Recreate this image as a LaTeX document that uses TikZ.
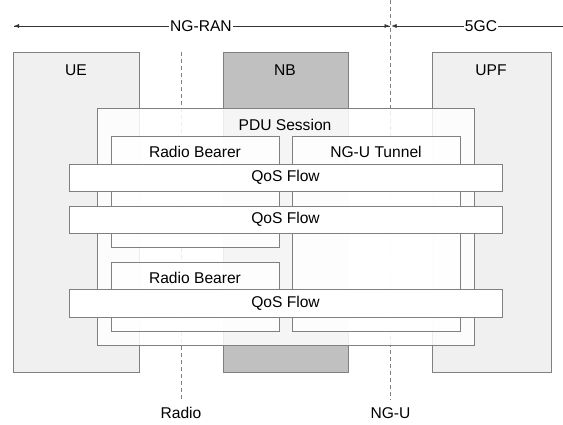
\documentclass[tikz,border=0pt]{standalone}
\usepackage{fontspec}
\setmainfont{Liberation Sans}
\usetikzlibrary{arrows.meta}
\definecolor{edgegray}{HTML}{808080}
\definecolor{lightfill}{HTML}{F0F0F0}
\definecolor{nbfill}{HTML}{C0C0C0}
\begin{document}
\begin{tikzpicture}[x=1pt,y=-1pt,
  every node/.style={font=\fontsize{15.6}{18}\selectfont},
  outerbox/.style={draw=edgegray, line width=0.8pt},
  glassbox/.style={draw=edgegray, line width=0.8pt, fill=white, fill opacity=0.85},
  flowbox/.style={draw=edgegray, line width=0.8pt, fill=white},
  divline/.style={draw=edgegray, line width=0.5pt, dash pattern=on 4pt off 3pt},
  domarrow/.style={draw=black!80, line width=0.5pt, -{Latex[length=5pt,width=4pt]}},
  lbl/.style={inner sep=1pt, fill=white}
]
\useasboundingbox (0,0) rectangle (563,425);

% outer entities
\draw[outerbox, fill=lightfill] (13,52) rectangle (139,372);
\draw[outerbox, fill=nbfill] (223,52) rectangle (348,372);
\draw[outerbox, fill=lightfill] (432,52) rectangle (551,372);
\node (ue) at (76,70) {UE};
\node (nb) at (285,70) {NB};
\node (upf) at (491,70) {UPF};

% interface lines
\coordinate (radtop) at (181,52);
\coordinate (radbot) at (181,400);
\coordinate (ngtop) at (390.5,0);
\coordinate (ngbot) at (390.5,400);
\draw[divline] (radtop) -- (radbot);
\draw[divline] (ngtop) -- (ngbot);
\node (radio) at (181,413) {Radio};
\node (ngu) at (390.5,413) {NG-U};

% domain arrows
\coordinate (ranl) at (14,26);
\coordinate (ranr) at (389.5,26);
\coordinate (cgl) at (391.5,26);
\coordinate (cgr) at (563,26);
\draw[domarrow] (ranr) -- (ranl);
\draw[domarrow] (ranl) -- (ranr);
\draw[domarrow] (cgr) -- (cgl);
\node[lbl] (ran) at (201,26) {NG-RAN};
\node[lbl] (cgc) at (481,26) {5GC};

% PDU session
\draw[glassbox] (97,108) rectangle (474,345);
\node (pdu) at (285,125) {PDU Session};

% bearers and tunnel
\draw[glassbox] (111,136) rectangle (279,247);
\draw[glassbox] (111,262) rectangle (279,331);
\draw[glassbox] (292,136) rectangle (460,331);
\node (rb1) at (195,152) {Radio Bearer};
\node (rb2) at (195,278) {Radio Bearer};
\node (tun) at (376,152) {NG-U Tunnel};

% QoS flows
\node[flowbox, minimum width=433pt, minimum height=27pt, inner sep=0pt] (qf1) at (285.5,177.5) {QoS Flow};
\node[flowbox, minimum width=433pt, minimum height=27pt, inner sep=0pt] (qf2) at (285.5,219.5) {QoS Flow};
\node[flowbox, minimum width=433pt, minimum height=28pt, inner sep=0pt] (qf3) at (285.5,303) {QoS Flow};
\end{tikzpicture}
\end{document}
